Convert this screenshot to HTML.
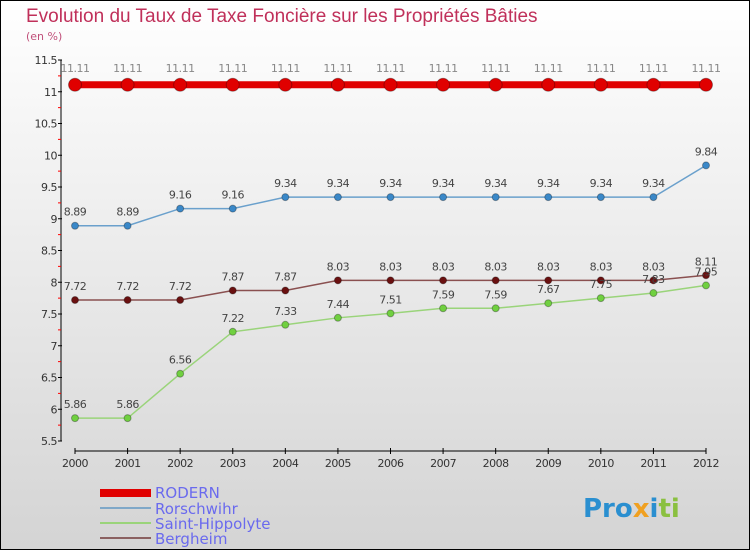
<!DOCTYPE html>
<html><head><meta charset="utf-8"><style>
body{margin:0}
svg{display:block;font-family:"DejaVu Sans","Liberation Sans",sans-serif}
</style></head><body>
<svg id="c" width="750" height="550">
<defs><linearGradient id="bg" x1="0" y1="0" x2="0" y2="1"><stop offset="0" stop-color="#ffffff"/><stop offset="1" stop-color="#d4d4d4"/></linearGradient></defs>
<rect x="0.5" y="0.5" width="749" height="549" fill="url(#bg)" stroke="#000"/>
<text x="26" y="22" font-size="19" fill="#c0305a" font-family="Liberation Sans, sans-serif">Evolution du Taux de Taxe Foncière sur les Propriétés Bâties</text>
<text x="26" y="40" font-size="11" fill="#c0507a">(en %)</text>
<g id="axes"></g><g id="series"></g>
<g>
<rect x="100" y="489" width="51" height="8" fill="#e00000"/>
<text x="155" y="498" font-size="15" fill="#6a6aee">RODERN</text>
<rect x="100" y="507" width="51" height="2" fill="#7fa8c8"/>
<text x="155" y="514" font-size="15" fill="#6a6aee">Rorschwihr</text>
<rect x="100" y="522" width="51" height="2" fill="#9ad47a"/>
<text x="155" y="529" font-size="15" fill="#6a6aee">Saint-Hippolyte</text>
<rect x="100" y="537" width="51" height="2" fill="#8a6060"/>
<text x="155" y="544" font-size="15" fill="#6a6aee">Bergheim</text>
</g>
<g font-size="26" font-weight="bold">
<text x="583" y="517" fill="#2a8fd0">Pro<tspan fill="#f0a020">x</tspan><tspan fill="#2a8fd0">i</tspan><tspan fill="#8ac040">ti</tspan></text>
</g>
</svg>
<script>
const years=[2000,2001,2002,2003,2004,2005,2006,2007,2008,2009,2010,2011,2012];
const yTicks=[5.5,6,6.5,7,7.5,8,8.5,9,9.5,10,10.5,11,11.5];
const rodern=[11.11,11.11,11.11,11.11,11.11,11.11,11.11,11.11,11.11,11.11,11.11,11.11,11.11];
const rorschwihr=[8.89,8.89,9.16,9.16,9.34,9.34,9.34,9.34,9.34,9.34,9.34,9.34,9.84];
const saintHippolyte=[5.86,5.86,6.56,7.22,7.33,7.44,7.51,7.59,7.59,7.67,7.75,7.83,7.95];
const bergheim=[7.72,7.72,7.72,7.87,7.87,8.03,8.03,8.03,8.03,8.03,8.03,8.03,8.11];
const NS="http://www.w3.org/2000/svg";
const X=i=>75+i*(706-75)/(years.length-1);
const Y=v=>441-(v-5.5)*(381/6);
function mk(p,t,a){const e=document.createElementNS(NS,t);for(const k in a)e.setAttribute(k,a[k]);p.appendChild(e);return e;}
const ax=document.getElementById('axes');
let l=mk(ax,'line',{x1:61,y1:60,x2:61,y2:441,stroke:'#000'});


l=mk(ax,'line',{x1:75,y1:451,x2:706,y2:451,stroke:'#000'});


yTicks.forEach((v,i)=>{
 mk(ax,'line',{x1:58,y1:Y(v),x2:62,y2:Y(v),stroke:'#000'});
 if(i<yTicks.length-1)mk(ax,'line',{x1:58,y1:Y(v+0.25),x2:61,y2:Y(v+0.25),stroke:'#f00'});
 const t=mk(ax,'text',{x:57,y:Y(v)+4,'font-size':11,'text-anchor':'end',fill:'#333','letter-spacing':'-0.5'});
 t.textContent=String(v);
 
 
});
years.forEach((y,i)=>{
 mk(ax,'line',{x1:X(i),y1:448,x2:X(i),y2:454,stroke:'#000'});
 const t=mk(ax,'text',{x:X(i),y:467,'font-size':11,'text-anchor':'middle',fill:'#333','letter-spacing':'-0.5'});
 t.textContent=y;
 
 
});
const sg=document.getElementById('series');
function series(name,vals,col,dot,w,r,lab,off){
 const g=mk(sg,'g',{});
 
 
 mk(g,'polyline',{points:vals.map((v,i)=>X(i)+','+Y(v)).join(' '),fill:'none',stroke:col,'stroke-width':w});
 vals.forEach((v,i)=>{
  const c=mk(g,'circle',{cx:X(i),cy:Y(v),r:r,fill:dot,stroke:'rgba(0,0,0,0.3)'});
  
  
  const t=mk(g,'text',{x:X(i),y:Y(v)-off,'font-size':11,'text-anchor':'middle',fill:lab,'letter-spacing':'-0.5'});
  t.textContent=v;
  
  
 });
}
series('bergheim',bergheim,'#8a5050','#6a1010',1.5,3.5,'#444',10);
series('saint-hippolyte',saintHippolyte,'#9ad47a','#70d040',1.5,3.5,'#444',10);
series('rorschwihr',rorschwihr,'#6aa0cc','#3a88c8',1.5,3.5,'#444',10);
series('rodern',rodern,'#e00000','#e00000',7,6.5,'#888',13);
</script>
</body></html>
